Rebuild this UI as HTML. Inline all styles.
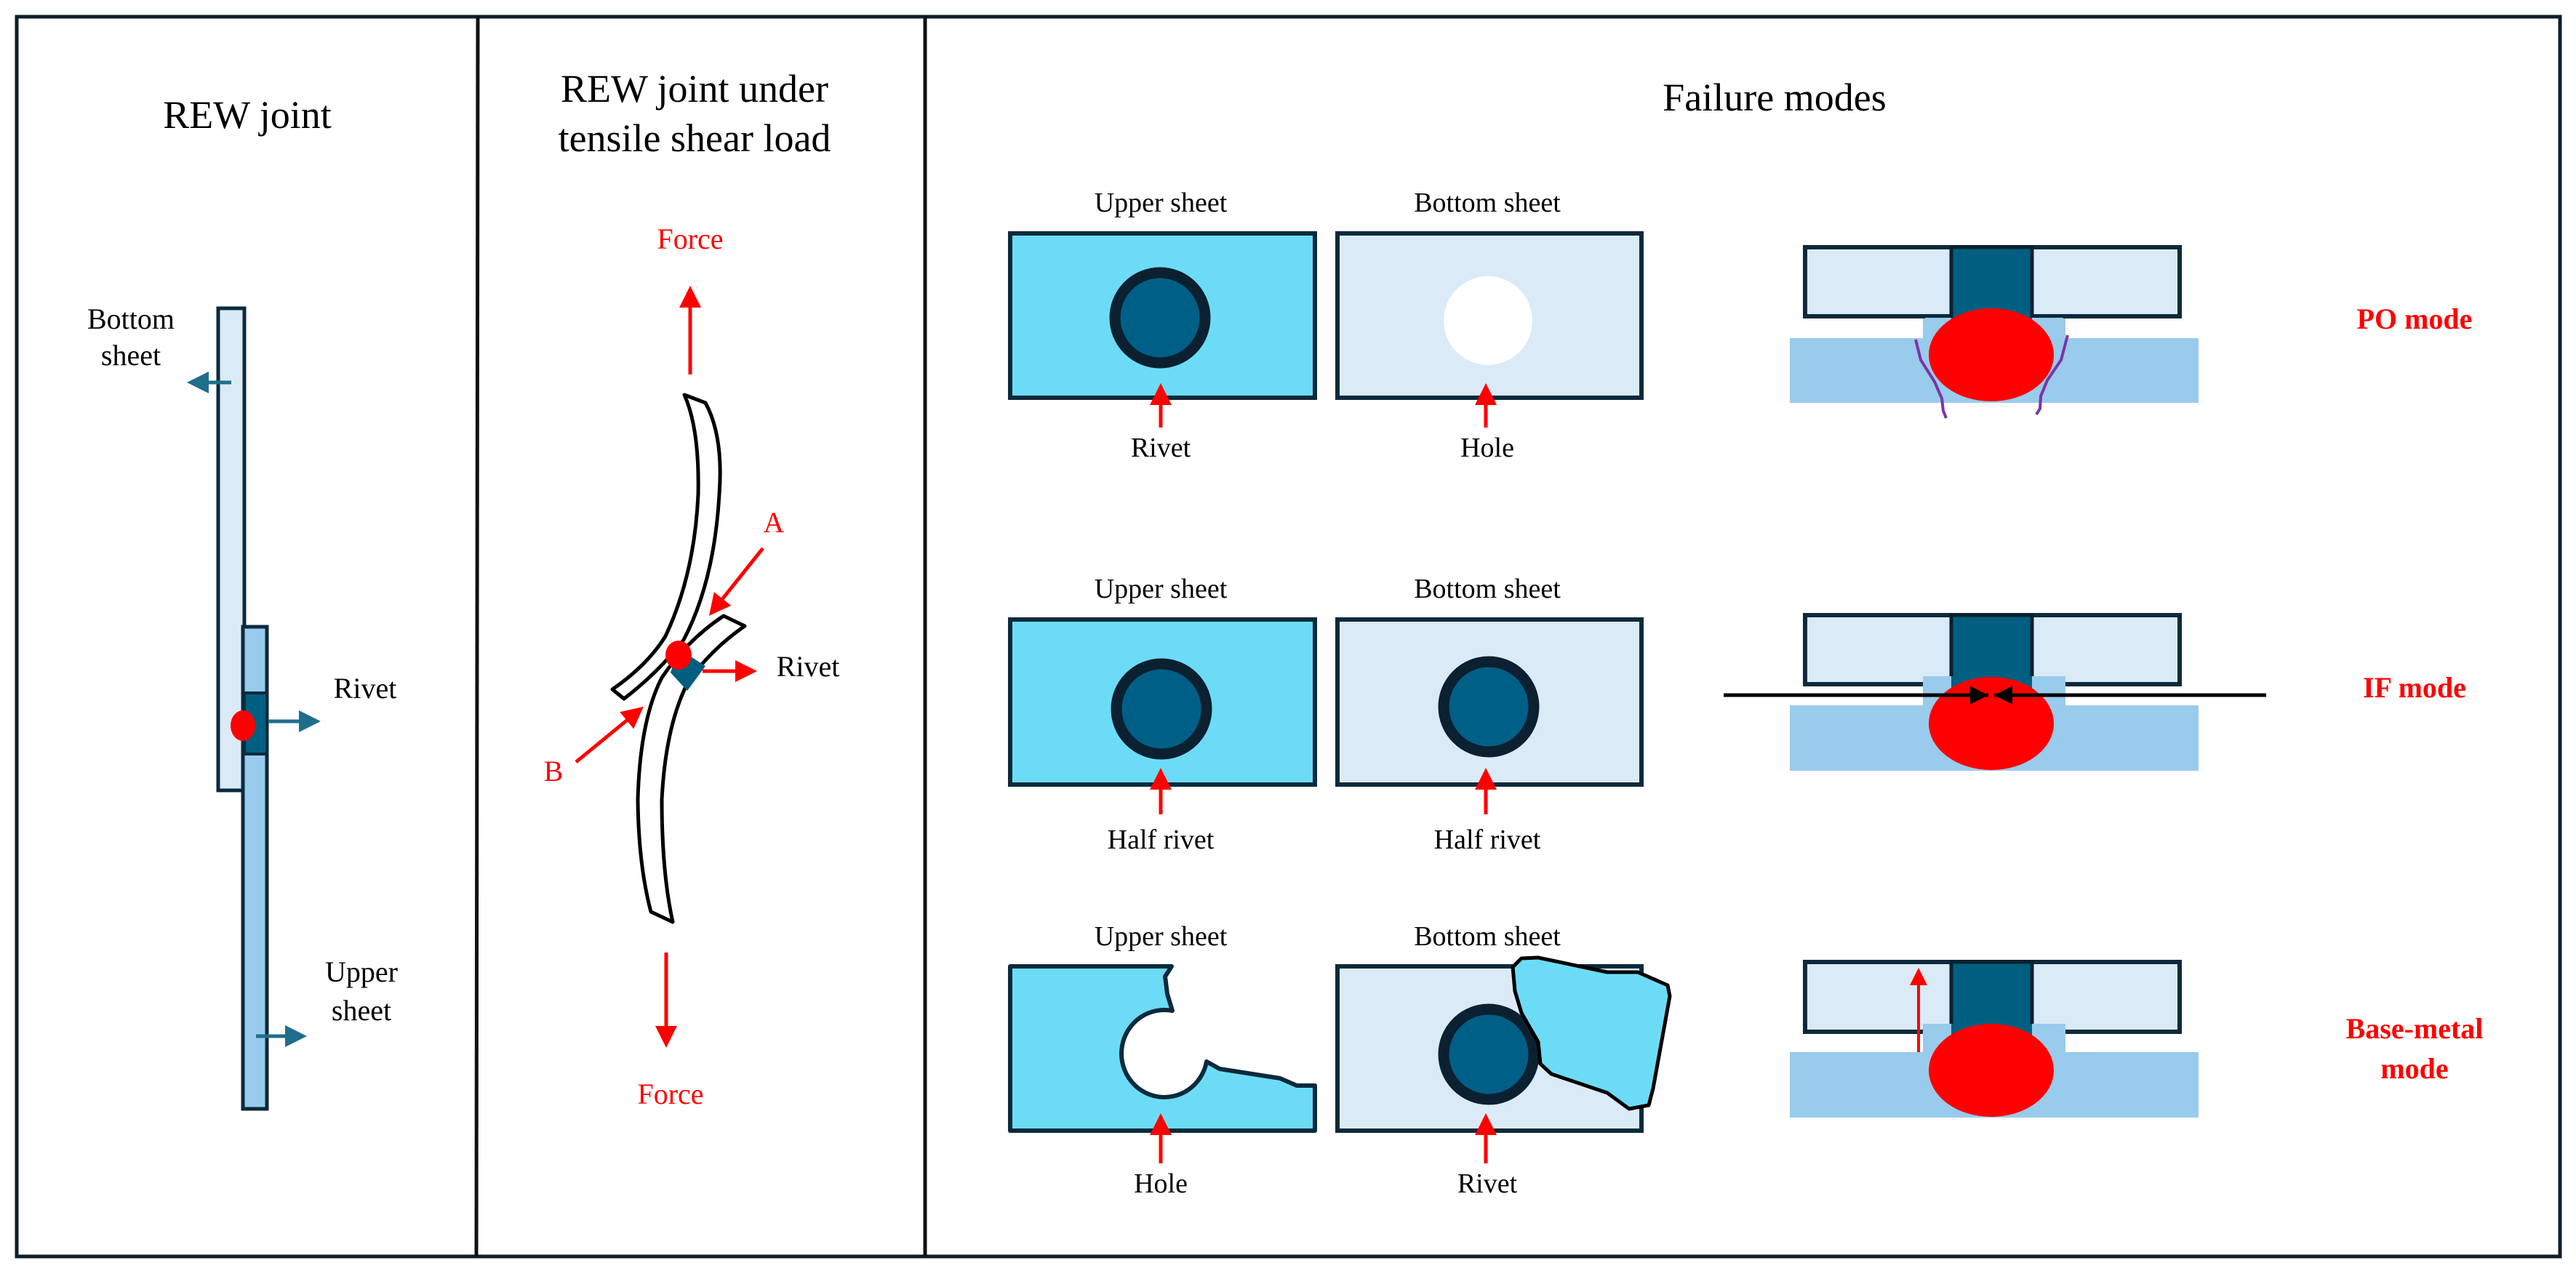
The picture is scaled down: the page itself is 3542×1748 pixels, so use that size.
<!DOCTYPE html>
<html><head><meta charset="utf-8"><style>html,body{margin:0;padding:0;background:#fff}svg{display:block}svg text{font-family:"Liberation Serif","DejaVu Serif",serif}</style></head><body>
<svg width="3542" height="1748" viewBox="0 0 3542 1748" xmlns="http://www.w3.org/2000/svg">
<defs>
<marker id="ar" markerWidth="6" markerHeight="6" refX="5" refY="3" orient="auto" markerUnits="strokeWidth"><path d="M0,0 L6,3 L0,6 z" fill="#ff0000"/></marker>
<marker id="at" markerWidth="6" markerHeight="6" refX="5" refY="3" orient="auto" markerUnits="strokeWidth"><path d="M0,0 L6,3 L0,6 z" fill="#1f6e8c"/></marker>
<marker id="ab" markerWidth="5" markerHeight="5" refX="5" refY="2.5" orient="auto" markerUnits="strokeWidth"><path d="M0,0 L5,2.5 L0,5 z" fill="#000"/></marker>
</defs>
<rect x="23" y="23" width="3497" height="1705" fill="#fff" stroke="#0e1e2a" stroke-width="5"/>
<line x1="657" y1="23" x2="655" y2="1728" stroke="#111" stroke-width="5"/>
<line x1="1272" y1="23" x2="1272" y2="1728" stroke="#111" stroke-width="5"/>

<!-- Panel 1 -->
<text x="340" y="176" font-size="54" text-anchor="middle">REW joint</text>
<rect x="300" y="424" width="36" height="663" fill="#dbeaf7" stroke="#0b2a3c" stroke-width="5"/>
<rect x="334" y="862" width="33" height="663" fill="#99cbec" stroke="#0b2a3c" stroke-width="5"/>
<rect x="336" y="953" width="31" height="84" fill="#005f80" stroke="#0b2a3c" stroke-width="4"/>
<ellipse cx="334" cy="998" rx="17" ry="21" fill="#ff0000"/>
<line x1="318" y1="526" x2="262" y2="526" stroke="#1f6e8c" stroke-width="5" marker-end="url(#at)"/>
<line x1="369" y1="992" x2="436" y2="992" stroke="#1f6e8c" stroke-width="5" marker-end="url(#at)"/>
<line x1="352" y1="1425" x2="417" y2="1425" stroke="#1f6e8c" stroke-width="5" marker-end="url(#at)"/>
<text font-size="40" text-anchor="middle"><tspan x="180" y="452">Bottom</tspan><tspan x="180" y="502">sheet</tspan></text>
<text x="502" y="960" font-size="40" text-anchor="middle">Rivet</text>
<text font-size="40" text-anchor="middle"><tspan x="497" y="1350">Upper</tspan><tspan x="497" y="1403">sheet</tspan></text>

<!-- Panel 2 -->
<text font-size="54" text-anchor="middle"><tspan x="955" y="140">REW joint under</tspan><tspan x="955" y="208">tensile shear load</tspan></text>
<text x="949" y="342" font-size="40" fill="#ff0000" text-anchor="middle">Force</text>
<line x1="949" y1="515" x2="949" y2="398" stroke="#ff0000" stroke-width="5" marker-end="url(#ar)"/>
<line x1="916" y1="1310" x2="916" y2="1436" stroke="#ff0000" stroke-width="5" marker-end="url(#ar)"/>
<text x="922" y="1518" font-size="40" fill="#ff0000" text-anchor="middle">Force</text>
<path d="M970,554 Q995,600 989,680 Q982,800 940,880 Q905,925 858,961 L842,948 Q890,915 915,875 Q955,790 960,680 Q962,590 941,543 Z" fill="#fff" stroke="#000" stroke-width="5" stroke-linejoin="round"/>
<path d="M995,847 L1024,861 Q975,895 945,940 Q915,1000 910,1100 Q910,1200 925,1268 L895,1254 Q878,1190 877,1100 Q880,990 910,932 Q945,880 995,847 Z" fill="#fff" stroke="#000" stroke-width="5" stroke-linejoin="round"/>
<polygon points="933,892 970,916 945,950 922,925" fill="#005f80"/>
<ellipse cx="933" cy="901" rx="18" ry="20" fill="#ff0000"/>
<line x1="966" y1="923" x2="1036" y2="923" stroke="#ff0000" stroke-width="5" marker-end="url(#ar)"/>
<text x="1111" y="930" font-size="40" text-anchor="middle">Rivet</text>
<line x1="1049" y1="754" x2="978" y2="843" stroke="#ff0000" stroke-width="5" marker-end="url(#ar)"/>
<text x="1064" y="732" font-size="40" fill="#ff0000" text-anchor="middle">A</text>
<line x1="792" y1="1048" x2="881" y2="975" stroke="#ff0000" stroke-width="5" marker-end="url(#ar)"/>
<text x="761" y="1074" font-size="40" fill="#ff0000" text-anchor="middle">B</text>

<!-- Panel 3 -->
<text x="2440" y="152" font-size="54" text-anchor="middle">Failure modes</text>
<g font-size="38" text-anchor="middle">
<text x="1596" y="291">Upper sheet</text><text x="2045" y="291">Bottom sheet</text>
<text x="1596" y="628">Rivet</text><text x="2045" y="628">Hole</text>
<text x="1596" y="822">Upper sheet</text><text x="2045" y="822">Bottom sheet</text>
<text x="1596" y="1167">Half rivet</text><text x="2045" y="1167">Half rivet</text>
<text x="1596" y="1300">Upper sheet</text><text x="2045" y="1300">Bottom sheet</text>
<text x="1596" y="1640">Hole</text><text x="2045" y="1640">Rivet</text>
</g>
<rect x="1389" y="321" width="419" height="226" fill="#6cdcf6" stroke="#0b2a3c" stroke-width="6"/>
<rect x="1839" y="321" width="418" height="226" fill="#dbeaf7" stroke="#0b2a3c" stroke-width="6"/>
<circle cx="1595" cy="437" r="62" fill="#005f86" stroke="#0b2030" stroke-width="15"/>
<circle cx="2046" cy="441" r="61" fill="#fff"/>
<rect x="1389" y="852" width="419" height="227" fill="#6cdcf6" stroke="#0b2a3c" stroke-width="6"/>
<rect x="1839" y="852" width="418" height="227" fill="#dbeaf7" stroke="#0b2a3c" stroke-width="6"/>
<circle cx="1597" cy="975" r="62" fill="#005f86" stroke="#0b2030" stroke-width="15"/>
<circle cx="2047" cy="972" r="62" fill="#005f86" stroke="#0b2030" stroke-width="15"/>
<rect x="1839" y="1329" width="418" height="226" fill="#dbeaf7" stroke="#0b2a3c" stroke-width="6"/>
<path d="M1389,1329 L1611,1329 L1602,1343 L1605,1367 L1612,1390 A59,60 0 1 0 1659,1460 L1677,1470 L1760,1483 L1783,1493 L1808,1493 L1808,1555 L1389,1555 Z" fill="#6cdcf6" stroke="#0b2a3c" stroke-width="6" stroke-linejoin="round"/>
<circle cx="2047" cy="1450" r="62" fill="#005f86" stroke="#0b2030" stroke-width="15"/>
<path d="M2092,1318 L2115,1317 L2210,1337 L2252,1337 L2293,1355 L2296,1370 L2273,1497 L2267,1520 L2240,1525 L2210,1503 L2133,1477 L2118,1463 L2115,1433 L2092,1393 L2083,1363 L2080,1330 Z" fill="#6cdcf6" stroke="#000" stroke-width="5" stroke-linejoin="round"/>
<g stroke="#ff0000" stroke-width="5" marker-end="url(#ar)">
<line x1="1596" y1="588" x2="1596" y2="532"/><line x1="2043" y1="588" x2="2043" y2="532"/>
<line x1="1596" y1="1120" x2="1596" y2="1061"/><line x1="2043" y1="1120" x2="2043" y2="1061"/>
<line x1="1596" y1="1600" x2="1596" y2="1536"/><line x1="2043" y1="1600" x2="2043" y2="1536"/>
</g>
<g>
<rect x="2461" y="465" width="562" height="89" fill="#99cbec"/>
<rect x="2644" y="425" width="196" height="45" fill="#99cbec"/>
<rect x="2482" y="340" width="515" height="95" fill="#dbeaf7" stroke="#0b2a3c" stroke-width="6"/>
<rect x="2683" y="340" width="111" height="110" fill="#005f80" stroke="#0b2030" stroke-width="5"/>
<rect x="2647" y="437" width="190" height="30" fill="#99cbec"/>
<rect x="2683" y="437" width="111" height="20" fill="#005f80"/>
<ellipse cx="2738" cy="488" rx="86" ry="64" fill="#ff0000"/>
<path d="M2634,467 L2641,495 L2660,525 L2670,548 L2672,565 L2676,575" fill="none" stroke="#7a35a8" stroke-width="4"/>
<path d="M2843,461 L2834,495 L2815,523 L2806,545 L2805,562 L2800,570" fill="none" stroke="#7a35a8" stroke-width="4"/>
</g>
<g>
<rect x="2461" y="970" width="562" height="90" fill="#99cbec"/>
<rect x="2482" y="846" width="515" height="95" fill="#dbeaf7" stroke="#0b2a3c" stroke-width="6"/>
<rect x="2683" y="846" width="111" height="100" fill="#005f80" stroke="#0b2030" stroke-width="5"/>
<rect x="2644" y="930" width="196" height="45" fill="#99cbec"/>
<rect x="2683" y="930" width="111" height="20" fill="#005f80"/>
<ellipse cx="2738" cy="995" rx="86" ry="64" fill="#ff0000"/>
<line x1="2370" y1="956" x2="2734" y2="956" stroke="#000" stroke-width="5" marker-end="url(#ab)"/>
<line x1="3116" y1="956" x2="2742" y2="956" stroke="#000" stroke-width="5" marker-end="url(#ab)"/>
</g>
<g>
<rect x="2461" y="1447" width="562" height="90" fill="#99cbec"/>
<rect x="2482" y="1323" width="515" height="96" fill="#dbeaf7" stroke="#0b2a3c" stroke-width="6"/>
<rect x="2683" y="1323" width="111" height="100" fill="#005f80" stroke="#0b2030" stroke-width="5"/>
<rect x="2644" y="1408" width="196" height="45" fill="#99cbec"/>
<rect x="2683" y="1408" width="111" height="20" fill="#005f80"/>
<ellipse cx="2738" cy="1472" rx="86" ry="64" fill="#ff0000"/>
<line x1="2638" y1="1447" x2="2638" y2="1335" stroke="#ff0000" stroke-width="4" marker-end="url(#ar)"/>
</g>
<g font-size="40" font-weight="bold" fill="#ff0000" text-anchor="middle">
<text x="3320" y="452">PO mode</text>
<text x="3320" y="959">IF mode</text>
<text x="3320" y="1428">Base-metal</text>
<text x="3320" y="1483">mode</text>
</g>
</svg>
</body></html>
